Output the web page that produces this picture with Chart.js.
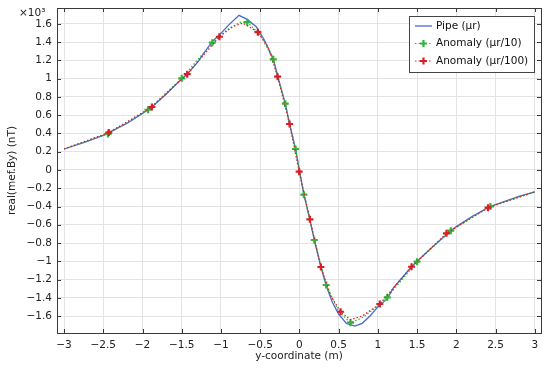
<!DOCTYPE html>
<html>
<head>
<meta charset="utf-8">
<script src="https://cdn.jsdelivr.net/npm/chart.js@4/dist/chart.umd.min.js"></script>
<style>
  html, body { margin: 0; padding: 0; background: #fff; }
  #wrap { width: 550px; height: 371px; }
</style>
</head>
<body>
<div id="wrap"><canvas id="fieldChart"></canvas></div>
<script>
// y-coordinate (m) vs real(mef.By), in units of 10^3 nT
const pipeX = [-3, -2.75, -2.5, -2.43, -2.2, -2, -1.88, -1.7, -1.5, -1.43, -1.3, -1.11, -1.02, -0.9, -0.77, -0.665, -0.55, -0.45, -0.333, -0.278, -0.18, -0.125, -0.049, 0, 0.057, 0.134, 0.19, 0.274, 0.342, 0.42, 0.5, 0.6, 0.707, 0.8, 0.9, 1.0, 1.12, 1.2, 1.43, 1.5, 1.7, 1.93, 2.0, 2.2, 2.43, 2.6, 2.8, 3];
const pipeY = [0.23, 0.30, 0.38, 0.41, 0.51, 0.62, 0.69, 0.83, 1.0, 1.05, 1.18, 1.41, 1.48, 1.59, 1.695, 1.65, 1.57, 1.43, 1.22, 1.03, 0.73, 0.5, 0.23, 0, -0.27, -0.54, -0.77, -1.06, -1.27, -1.45, -1.58, -1.68, -1.71, -1.68, -1.6, -1.5, -1.41, -1.29, -1.06, -1.0, -0.84, -0.665, -0.62, -0.51, -0.40, -0.35, -0.29, -0.24];

const anom10X = [-3, -2.44, -1.93, -1.5, -1.11, -0.9, -0.75, -0.665, -0.5, -0.333, -0.18, -0.049, 0.057, 0.19, 0.342, 0.5, 0.652, 0.8, 1.0, 1.12, 1.5, 1.93, 2.435, 3];
const anom10Y = [0.23, 0.395, 0.66, 1.005, 1.395, 1.55, 1.62, 1.62, 1.48, 1.213, 0.727, 0.23, -0.27, -0.767, -1.26, -1.55, -1.673, -1.62, -1.49, -1.395, -1.005, -0.665, -0.40, -0.24];
const anom10Marks = [1, 2, 3, 4, 7, 9, 10, 11, 12, 13, 14, 16, 19, 20, 21, 22];

const anom100X = [-3, -2.43, -1.88, -1.43, -1.02, -0.85, -0.72, -0.529, -0.4, -0.278, -0.125, -0.003, 0.134, 0.274, 0.4, 0.525, 0.65, 0.8, 1.025, 1.43, 1.875, 2.405, 3];
const anom100Y = [0.23, 0.41, 0.69, 1.05, 1.46, 1.57, 1.61, 1.51, 1.35, 1.023, 0.504, -0.018, -0.54, -1.063, -1.38, -1.553, -1.64, -1.6, -1.468, -1.06, -0.694, -0.413, -0.24];
const anom100Marks = [1, 2, 3, 4, 7, 9, 10, 11, 12, 13, 15, 18, 19, 20, 21];

const xTicks = [-3, -2.5, -2, -1.5, -1, -0.5, 0, 0.5, 1, 1.5, 2, 2.5, 3];
const yTicks = [-1.6, -1.4, -1.2, -1, -0.8, -0.6, -0.4, -0.2, 0, 0.2, 0.4, 0.6, 0.8, 1, 1.2, 1.4, 1.6];

const labels = ['Pipe (\u03bcr)', 'Anomaly (\u03bcr/10)', 'Anomaly (\u03bcr/100)'];

const BLUE = '#4a68d0';
const GREEN = '#33b33a';
const RED = '#d61f26';
const FONT = { family: 'DejaVu Sans', size: 10.5 };

function toPoints(xs, ys) {
    return xs.map((x, i) => ({ x: x, y: ys[i] }));
}

function fmt(v) {
    const s = String(Math.round(v * 100) / 100);
    return s.replace('-', '\u2212');
}

// small inward ticks on all four sides, plus the frame and the x10^3 note
const framePlugin = {
    id: 'frame',
    afterDraw(chart) {
        const { ctx, chartArea: a, scales } = chart;
        ctx.save();
        ctx.strokeStyle = '#3a3a3a';
        ctx.lineWidth = 1;
        ctx.beginPath();
        xTicks.forEach(v => {
            const px = Math.round(scales.x.getPixelForValue(v)) + 0.5;
            ctx.moveTo(px, a.bottom); ctx.lineTo(px, a.bottom - 4);
            ctx.moveTo(px, a.top); ctx.lineTo(px, a.top + 4);
        });
        yTicks.forEach(v => {
            const py = Math.round(scales.y.getPixelForValue(v)) + 0.5;
            ctx.moveTo(a.left, py); ctx.lineTo(a.left + 4, py);
            ctx.moveTo(a.right, py); ctx.lineTo(a.right - 4, py);
        });
        ctx.stroke();
        ctx.strokeRect(Math.round(a.left) + 0.5, Math.round(a.top) + 0.5,
            Math.round(a.right - a.left), Math.round(a.bottom - a.top));

        ctx.fillStyle = '#222';
        ctx.font = '10.5px "DejaVu Sans"';
        ctx.textBaseline = 'middle';
        ctx.textAlign = 'left';
        ctx.fillText('\u00d710\u00b3', 19, 13);
        ctx.restore();
    }
};

// legend box in the top right corner of the plot
const legendPlugin = {
    id: 'boxLegend',
    afterDraw(chart) {
        const { ctx, chartArea: a } = chart;
        const right = a.right - 7, top = a.top + 8;
        const w = 125, h = 56;
        const left = right - w;
        ctx.save();
        ctx.fillStyle = '#fff';
        ctx.fillRect(left, top, w, h);
        ctx.strokeStyle = '#444';
        ctx.lineWidth = 1;
        ctx.strokeRect(Math.round(left) + 0.5, Math.round(top) + 0.5, w, h);
        ctx.font = '10.5px "DejaVu Sans"';
        ctx.textBaseline = 'middle';
        chart.data.datasets.forEach((ds, i) => {
            const y = top + 10 + i * 17.5;
            const x0 = left + 6, x1 = left + 23;
            ctx.strokeStyle = ds.borderColor;
            ctx.lineWidth = ds.borderWidth;
            ctx.setLineDash(ds.borderDash || []);
            ctx.beginPath();
            ctx.moveTo(x0, y); ctx.lineTo(x1, y);
            ctx.stroke();
            ctx.setLineDash([]);
            if (i > 0) {
                ctx.lineWidth = 2.2;
                ctx.beginPath();
                const cx = (x0 + x1) / 2;
                ctx.moveTo(cx - 3.5, y); ctx.lineTo(cx + 3.5, y);
                ctx.moveTo(cx, y - 3.5); ctx.lineTo(cx, y + 3.5);
                ctx.stroke();
            }
            ctx.fillStyle = '#111';
            ctx.fillText(ds.label, left + 27, y);
        });
        ctx.restore();
    }
};

function markRadius(marks) {
    return ctx => marks.includes(ctx.dataIndex) ? 3.5 : 0;
}

function renderChart() {
    const ctx = document.getElementById('fieldChart').getContext('2d');

    new Chart(ctx, {
        type: 'line',
        data: {
            datasets: [{
                label: labels[0],
                data: toPoints(pipeX, pipeY),
                borderColor: BLUE,
                borderWidth: 1.3,
                pointRadius: 0,
                tension: 0,
                order: 2
            }, {
                label: labels[1],
                data: toPoints(anom10X, anom10Y),
                borderColor: GREEN,
                borderWidth: 1.2,
                borderDash: [1.5, 2],
                pointStyle: 'cross',
                pointRadius: markRadius(anom10Marks),
                pointBorderWidth: 2.2,
                pointBorderColor: GREEN,
                tension: 0,
                order: 1
            }, {
                label: labels[2],
                data: toPoints(anom100X, anom100Y),
                borderColor: RED,
                borderWidth: 1.2,
                borderDash: [1.5, 2],
                pointStyle: 'cross',
                pointRadius: markRadius(anom100Marks),
                pointBorderWidth: 2.2,
                pointBorderColor: RED,
                tension: 0,
                order: 0
            }]
        },
        options: {
            responsive: true,
            maintainAspectRatio: false,
            animation: false,
            layout: { padding: { top: 8, right: 9, left: 0, bottom: 0 } },
            scales: {
                x: {
                    type: 'linear',
                    min: -3.09,
                    max: 3.08,
                    afterBuildTicks: scale => { scale.ticks = xTicks.map(v => ({ value: v })); },
                    grid: { color: '#e3e3e3', drawTicks: false },
                    border: { display: false },
                    ticks: { font: FONT, color: '#222', padding: 6, maxRotation: 0, callback: v => fmt(v) },
                    title: { display: true, text: 'y-coordinate (m)', font: FONT, color: '#222', padding: { top: 0, bottom: 8 } },
                    afterFit: scale => { scale.height = 38; scale.paddingLeft = 0; scale.paddingRight = 0; }
                },
                y: {
                    min: -1.786,
                    max: 1.775,
                    afterBuildTicks: scale => { scale.ticks = yTicks.map(v => ({ value: v })); },
                    grid: { color: '#e3e3e3', drawTicks: false },
                    border: { display: false },
                    ticks: { font: FONT, color: '#222', padding: 5, callback: v => fmt(v) },
                    title: { display: true, text: 'real(mef.By) (nT)', font: FONT, color: '#222', padding: { top: 6, bottom: 0 } },
                    afterFit: scale => { scale.width = 57; scale.paddingTop = 0; scale.paddingBottom = 0; }
                }
            },
            plugins: {
                legend: { display: false },
                tooltip: { enabled: false }
            }
        },
        plugins: [framePlugin, legendPlugin]
    });
}

document.addEventListener('DOMContentLoaded', renderChart);
</script>
</body>
</html>
